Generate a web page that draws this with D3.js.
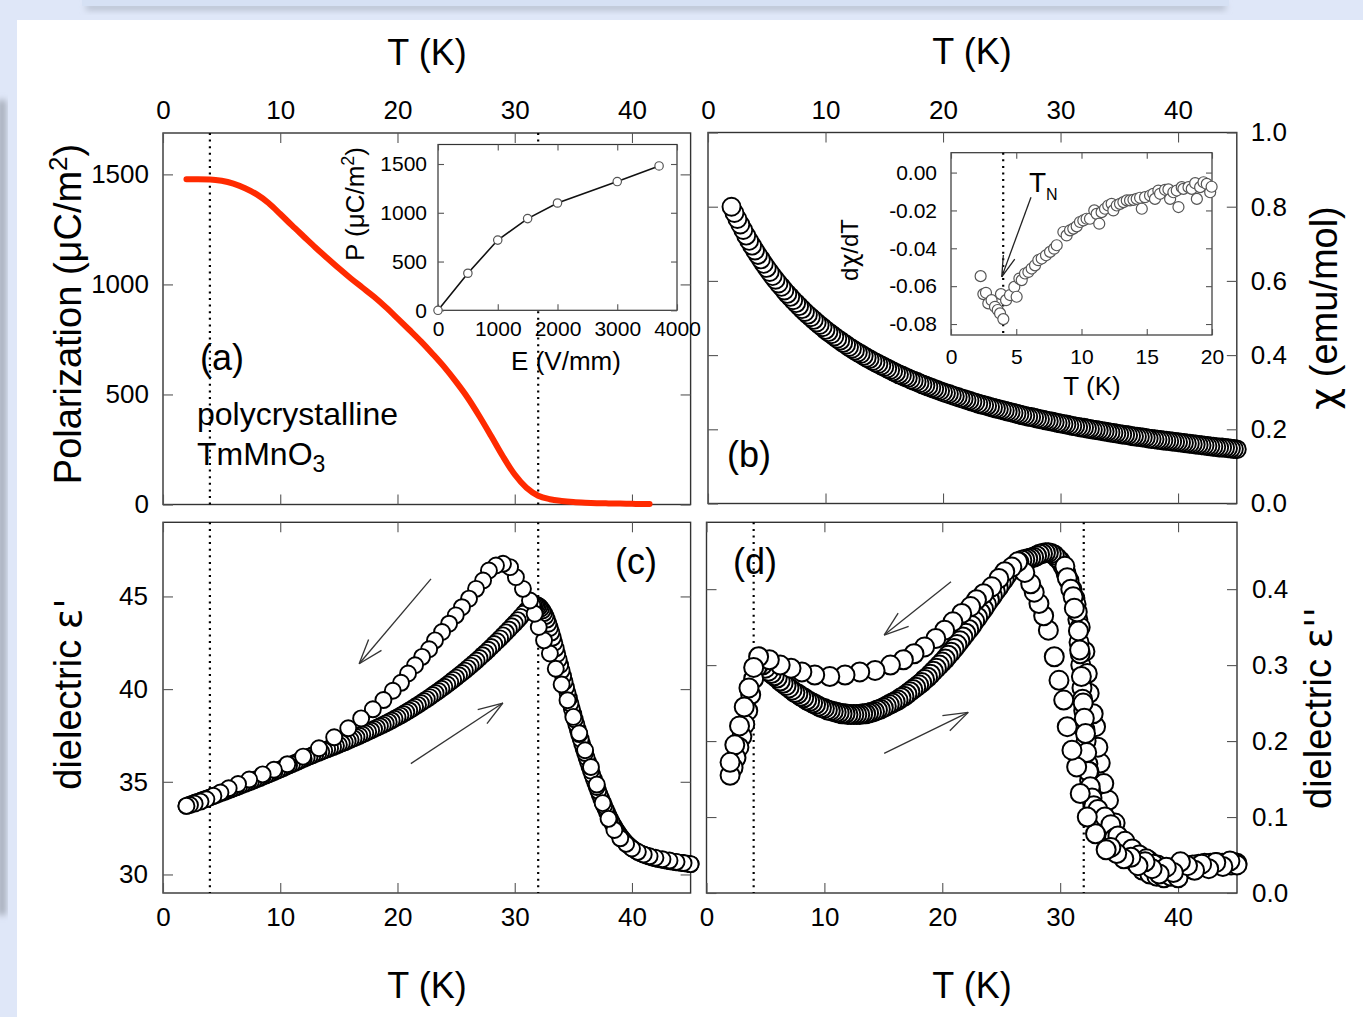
<!DOCTYPE html>
<html>
<head>
<meta charset="utf-8">
<script src="https://cdn.jsdelivr.net/npm/d3@7"></script>
<style>
  html, body { margin: 0; padding: 0; background: #dfe7f8; }
  svg { display: block; }
</style>
</head>
<body>
<svg id="fig" width="1363" height="1017"></svg>
<script>
// ---------------------------------------------------------------
// Data: TmMnO3 polycrystal — polarization, susceptibility, dielectric
// ---------------------------------------------------------------

// Temperature grid (K) shared by the densely sampled sweeps
const TEMP_GRID = [2,2.25,2.5,2.75,3,3.25,3.5,3.75,4,4.25,4.5,4.75,5,5.25,5.5,5.75,6,6.25,6.5,6.75,7,7.25,7.5,7.75,8,8.25,8.5,8.75,9,9.25,9.5,9.75,10,10.25,10.5,10.75,11,11.25,11.5,11.75,12,12.25,12.5,12.75,13,13.25,13.5,13.75,14,14.25,14.5,14.75,15,15.25,15.5,15.75,16,16.25,16.5,16.75,17,17.25,17.5,17.75,18,18.25,18.5,18.75,19,19.25,19.5,19.75,20,20.25,20.5,20.75,21,21.25,21.5,21.75,22,22.25,22.5,22.75,23,23.25,23.5,23.75,24,24.25,24.5,24.75,25,25.25,25.5,25.75,26,26.25,26.5,26.75,27,27.25,27.5,27.75,28,28.25,28.5,28.75,29,29.25,29.5,29.75,30,30.25,30.5,30.75,31,31.25,31.5,31.75,32,32.25,32.5,32.75,33,33.25,33.5,33.75,34,34.25,34.5,34.75,35,35.25,35.5,35.75,36,36.25,36.5,36.75,37,37.25,37.5,37.75,38,38.25,38.5,38.75,39,39.25,39.5,39.75,40,40.25,40.5,40.75,41,41.25,41.5,41.75,42,42.25,42.5,42.75,43,43.25,43.5,43.75,44,44.25,44.5,44.75,45];

// (a) spontaneous polarization (uC/m^2) vs T
const POL_T = [2,3,4,5,6,7,8,9,10,11,12,13,14,15,16,17,18,19,20,21,22,23,24,25,26,27,28,29,30,31,32,33,34,35,36,37,38,39,40,41,41.5];
const POL   = [1478,1478,1477,1471,1458,1437,1409,1370,1320,1268,1218,1168,1120,1073,1028,986,944,897,846,794,741,684,624,557,484,400,310,218,136,76,40,24,16,11,8,6,5,4,3,2,2];

// (a, inset) polarization vs poling field
const PE_FIELD = [0,500,1000,1500,2000,3000,3700];
const PE_POL   = [0,380,720,940,1100,1320,1480];

// (b) magnetic susceptibility chi (emu/mol) on TEMP_GRID
const CHI = [
  .800,.783,.767,.752, .737,.722,.708,.695, .682,.670,.658,.646, .635,.624,.613,.603,
  .593,.584,.574,.565, .557,.548,.540,.532, .524,.516,.509,.502, .495,.488,.481,.475,
  .468,.462,.456,.450, .444,.439,.433,.428, .422,.417,.412,.407, .403,.398,.393,.389,
  .384,.380,.376,.372, .368,.364,.360,.356, .352,.348,.345,.341, .338,.334,.331,.328,
  .324,.321,.318,.315, .312,.309,.306,.303, .300,.297,.295,.292, .289,.287,.284,.282,
  .279,.277,.274,.272, .269,.267,.265,.263, .260,.258,.256,.254, .252,.250,.248,.246,
  .244,.242,.240,.238, .236,.234,.233,.231, .229,.227,.226,.224, .222,.221,.219,.217,
  .216,.214,.213,.211, .209,.208,.206,.205, .204,.202,.201,.199, .198,.197,.195,.194,
  .193,.191,.190,.189, .187,.186,.185,.184, .182,.181,.180,.179, .178,.177,.175,.174,
  .173,.172,.171,.170, .169,.168,.167,.166, .165,.164,.163,.162, .161,.160,.159,.158,
  .157,.156,.155,.154, .153,.152,.151,.151, .150,.149,.148,.147, .146];

// (b, inset) d(chi)/dT
const DCHI_T = [2.27,2.48,2.68,2.86,3.11,3.37,3.58,3.76,3.83,4.01,4.22,4.52,4.85,5.03,5.24,5.42,5.67,5.93,6.18,6.44,6.69,6.95,7.28,7.59,7.9,8.1,8.61,8.86,9.12,9.37,9.63,9.88,10.14,10.39,10.65,10.98,11.16,11.36,11.54,11.8,12.05,12.31,12.44,12.7,12.95,13.21,13.47,13.72,13.98,14.23,14.49,14.62,14.87,15.25,15.5,15.63,15.89,16.02,16.4,16.66,16.79,17.04,17.3,17.43,17.68,17.81,18.2,18.45,18.71,18.84,19.09,19.35,19.6,19.86,19.97];
const DCHI   = [-0.0547,-0.0642,-0.0635,-0.0691,-0.0674,-0.0709,-0.0726,-0.0744,-0.0642,-0.0774,-0.0674,-0.0647,-0.0604,-0.0656,-0.056,-0.0568,-0.0533,-0.0525,-0.0507,-0.049,-0.0463,-0.0454,-0.0437,-0.0419,-0.0402,-0.0384,-0.0314,-0.0332,-0.0305,-0.0296,-0.0284,-0.0261,-0.0253,-0.0244,-0.0244,-0.02,-0.0218,-0.027,-0.0209,-0.0191,-0.0174,-0.0165,-0.02,-0.0174,-0.0165,-0.0156,-0.0147,-0.0147,-0.0144,-0.0139,-0.0133,-0.0191,-0.013,-0.0121,-0.0112,-0.0139,-0.0095,-0.0112,-0.0091,-0.0089,-0.0139,-0.0104,-0.0095,-0.0182,-0.0077,-0.0086,-0.0077,-0.0086,-0.0056,-0.0139,-0.0077,-0.0051,-0.006,-0.0104,-0.0075];

// (c) dielectric constant eps' — warming sweep on TEMP_GRID
const EPS1_WARM = [
  33.70,33.76,33.82,33.88, 33.93,33.99,34.05,34.10, 34.16,34.22,34.28,34.34, 34.40,34.46,34.52,34.58,
  34.64,34.70,34.76,34.83, 34.89,34.95,35.01,35.08, 35.14,35.20,35.27,35.33, 35.40,35.47,35.53,35.60,
  35.67,35.74,35.81,35.88, 35.95,36.02,36.09,36.17, 36.24,36.30,36.37,36.43, 36.50,36.56,36.62,36.69,
  36.75,36.81,36.87,36.94, 37.00,37.07,37.13,37.20, 37.27,37.34,37.41,37.48, 37.55,37.62,37.70,37.77,
  37.85,37.92,38.00,38.07, 38.15,38.23,38.31,38.40, 38.48,38.57,38.66,38.76, 38.85,38.95,39.05,39.15,
  39.25,39.36,39.46,39.57, 39.68,39.79,39.90,40.02, 40.13,40.25,40.37,40.50, 40.62,40.75,40.87,41.00,
  41.13,41.27,41.40,41.54, 41.68,41.83,41.97,42.12, 42.27,42.43,42.58,42.74, 42.90,43.06,43.22,43.39,
  43.55,43.72,43.90,44.08, 44.25,44.40,44.52,44.56, 44.50,44.35,44.10,43.75, 43.30,42.78,42.20,41.60,
  41.00,40.40,39.80,39.22, 38.65,38.10,37.57,37.05, 36.55,36.07,35.60,35.15, 34.72,34.30,33.90,33.53,
  33.18,32.86,32.57,32.31, 32.08,31.88,31.70,31.55, 31.42,31.31,31.22,31.14, 31.07,31.01,30.96,30.91,
  30.87,30.83,30.80,30.77, 30.74,30.71,30.69,30.66, 30.64,30.62,30.60,30.58, 30.56];

// (c) eps' — warming points between the grid steps on the steep high-T flank
const EPS1_FLANK_T = [31.625,31.875,32.125,32.375,32.625,32.875,33.125,33.375,33.625,33.875,34.125,34.375,34.625,34.875,35.125,35.375,35.625,35.875,36.125,36.375,36.625,36.875,37.125,37.375,37.625,37.875,38.125,38.375,38.625,38.875,39.125,39.375,39.625,39.875];
const EPS1_FLANK   = [44.55,44.54,44.44,44.24,43.94,43.53,43.05,42.50,41.90,41.30,40.70,40.10,39.51,38.93,38.37,37.83,37.31,36.80,36.31,35.83,35.37,34.93,34.51,34.10,33.71,33.35,33.02,32.71,32.44,32.19,31.98,31.79,31.62,31.48];

// (c) eps' — cooling sweep (45 K -> 2 K)
const EPS1_COOL_T = [45,44.4,43.8,43.2,42.6,42,41.5,41,40.5,40,39.5,39,38.5,38,37.5,37,36.5,36,35.5,35,34.5,34,33.5,33,32.5,32.05,31.7,31.3,30.7,30.1,29.6,29,28.4,27.8,27.3,26.7,26.1,25.5,24.97,24.4,23.8,23.2,22.7,22.1,21.5,20.9,20.3,19.6,18.8,17.9,16.9,15.8,14.6,13.3,11.95,10.6,9.46,8.5,7.35,6.4,5.6,4.9,4.3,3.7,3.2,2.7,2.3,2];
const EPS1_COOL   = [30.56,30.62,30.68,30.75,30.82,30.9,30.98,31.08,31.22,31.4,31.65,31.95,32.4,33.0,33.85,34.85,35.8,36.7,37.62,38.5,39.4,40.25,41.1,41.92,42.63,43.35,44.07,44.78,45.41,46.04,46.58,46.76,46.67,46.4,45.86,45.41,44.88,44.42,43.98,43.53,43.08,42.63,42.15,41.74,41.29,40.84,40.34,39.91,39.41,38.91,38.42,37.89,37.4,36.81,36.36,35.95,35.65,35.4,35.12,34.88,34.65,34.42,34.24,34.06,33.93,33.82,33.75,33.7];

// (d) dielectric loss eps'' — warming sweep on TEMP_GRID
const EPS2_WARM = [
  .155,.165,.178,.192, .206,.222,.240,.261, .282,.297,.302,.300, .296,.292,.289,.286,
  .283,.279,.276,.273, .270,.267,.264,.262, .259,.257,.254,.252, .250,.248,.246,.244,
  .243,.241,.240,.239, .238,.237,.236,.236, .235,.235,.235,.235, .235,.236,.236,.237,
  .238,.239,.241,.242, .244,.246,.248,.250, .252,.254,.257,.259, .262,.265,.268,.271,
  .274,.277,.281,.284, .288,.292,.296,.300, .304,.308,.313,.317, .322,.327,.332,.337,
  .342,.347,.352,.358, .363,.369,.374,.380, .386,.391,.397,.402, .408,.413,.419,.424,
  .429,.433,.436,.438, .439,.440,.441,.442, .444,.446,.447,.448, .448,.447,.445,.441,
  .437,.430,.421,.411, .400,.388,.360,.300, .240,.190,.148,.118, .100,.090,.084,.078,
  .073,.068,.064,.060, .056,.053,.050,.048, .046,.044,.042,.047, .038,.036,.043,.034,
  .031,.037,.029,.031, .026,.033,.029,.032, .027,.035,.031,.036, .033,.037,.034,.038,
  .035,.039,.036,.039, .037,.040,.037,.039, .038,.040,.037,.040, .039];

// (d) eps'' — scattered points along the steep flank and the high-T tail
const EPS2_EDGE_T = [35.2,34.66,34.1,33.7,33.4,33.2,33.0,32.8,32.46,32.3,32.1,31.7,31.35,31.45,31.6,31.7,31.85,31.9,32.1,32.2,32.35,32.45,32.6,32.9,
  30.4,30.6,30.9,31.1,31.2,31.55,31.65,31.8,31.95,32.05,32.15,32.25,32.4,32.55,32.7,32.85,33.05,
  33.2,33.5,33.8,34.0,34.3,34.6,34.9,35.2,35.5,35.8,36.1,36.4,36.7,37.0,37.3,37.6,37.9,38.2,38.5,38.8,39.1,39.4,39.7,40.0];
const EPS2_EDGE   = [0.07,0.092,0.122,0.144,0.171,0.192,0.219,0.236,0.263,0.289,0.318,0.35,0.38,0.37,0.33,0.315,0.27,0.255,0.215,0.2,0.17,0.16,0.133,0.108,
  0.43,0.415,0.40,0.39,0.375,0.345,0.32,0.285,0.25,0.23,0.21,0.185,0.16,0.14,0.125,0.115,0.10,
  0.11,0.095,0.10,0.08,0.09,0.072,0.075,0.06,0.068,0.05,0.058,0.04,0.05,0.03,0.045,0.025,0.038,0.022,0.03,0.02,0.028,0.022,0.03,0.02];

// (d) eps'' — cooling sweep (45 K -> 2 K)
const EPS2_COOL_T = [45,44.4,43.8,43.2,42.6,42,41.4,40.8,40.2,39.6,39,38.4,37.8,37.2,36.6,36,35.4,34.8,34.3,33.9,33,32.3,31.7,31.4,31,30.6,30.3,29.9,29.5,29,28.6,28.2,27.8,27.5,27,26.4,25.9,25.3,24.8,24.2,23.5,22.9,22.4,21.65,20.9,20.2,19.45,18.5,17.6,16.7,15.6,14.3,13,11.75,10.46,9.18,8.09,7.17,6.25,5.33,4.42,4,3.6,3.2,2.8,2.4,2];
const EPS2_COOL   = [0.037,0.042,0.035,0.04,0.032,0.038,0.03,0.036,0.041,0.027,0.034,0.025,0.032,0.041,0.036,0.047,0.045,0.052,0.06,0.057,0.078,0.1,0.131,0.166,0.188,0.219,0.254,0.28,0.311,0.346,0.365,0.381,0.396,0.407,0.422,0.436,0.429,0.423,0.414,0.403,0.394,0.386,0.377,0.368,0.357,0.346,0.335,0.324,0.315,0.307,0.3,0.293,0.291,0.287,0.285,0.287,0.291,0.296,0.3,0.307,0.311,0.297,0.27,0.245,0.22,0.195,0.172];

// Tick values
const T_TICKS     = [0,10,20,30,40];
const POL_TICKS   = [0,500,1000,1500];
const CHI_TICKS   = [0,0.2,0.4,0.6,0.8,1.0];
const EPS1_TICKS  = [30,35,40,45];
const EPS2_TICKS  = [0,0.1,0.2,0.3,0.4];
const FIELD_TICKS = [0,1000,2000,3000,4000];
const PE_TICKS    = [0,500,1000,1500];
const DT_TICKS    = [0,5,10,15,20];
const DCHI_TICKS  = [0,-0.02,-0.04,-0.06,-0.08];

// Transition temperatures marked by dotted lines
const T_N  = 4;
const T_FE = 32;

// ---------------------------------------------------------------
const FONT = "'Liberation Sans', Arial, Helvetica, sans-serif";
const GREEK = "'DejaVu Sans', 'Liberation Sans', sans-serif";
const W = 1363, H = 1017;
const svg = d3.select("#fig");
const pairs = (xs, ys) => d3.zip(xs, ys);

// page backdrop
const defs = svg.append("defs");
defs.append("filter").attr("id", "soft").attr("x", "-20%").attr("y", "-80%").attr("width", "140%").attr("height", "260%")
  .append("feGaussianBlur").attr("stdDeviation", 3);
svg.append("rect").attr("width", W).attr("height", H).attr("fill", "#dfe7f8");
svg.append("rect").attr("x", -2).attr("y", 100).attr("width", 8).attr("height", 815)
  .attr("fill", "#a4abb8").attr("filter", "url(#soft)");
svg.append("rect").attr("x", 86).attr("y", 4).attr("width", 1140).attr("height", 6)
  .attr("fill", "#b4bccb").attr("filter", "url(#soft)");
svg.append("rect").attr("x", 82).attr("y", -2).attr("width", 1147).attr("height", 8).attr("fill", "#d6e1f4");
svg.append("rect").attr("x", 17).attr("y", 20).attr("width", W - 17).attr("height", H - 20).attr("fill", "#ffffff");

// generic framed panel with inward ticks on all four sides
function panel(o) {
  const x = d3.scaleLinear().domain(o.xd).range([o.left, o.right]);
  const y = d3.scaleLinear().domain(o.yd).range([o.bottom, o.top]);
  const g = svg.append("g");
  g.append("rect")
    .attr("x", o.left).attr("y", o.top)
    .attr("width", o.right - o.left).attr("height", o.bottom - o.top)
    .attr("fill", o.fill || "none").attr("stroke", "#333").attr("stroke-width", o.frameW || 1.4);

  const ts = o.tickLen || 10;
  function put(axisFn, scale, vals, labelled, fmt, tx, ty) {
    const a = axisFn(scale).tickValues(vals).tickSizeInner(-ts).tickSizeOuter(0).tickPadding(o.pad || 14);
    a.tickFormat(labelled ? fmt : () => "");
    const ag = g.append("g").attr("transform", `translate(${tx},${ty})`).call(a)
      .attr("font-family", FONT).attr("font-size", o.fs || 26);
    ag.select(".domain").remove();
    ag.selectAll(".tick line").attr("stroke", "#555").attr("stroke-width", 1.1);
    ag.selectAll(".tick text").attr("fill", "#000");
    return ag;
  }
  const fx = o.fx || (d => d), fy = o.fy || (d => d);
  put(d3.axisTop,    x, o.xt, o.xLab === "top",    fx, 0, o.top);
  put(d3.axisBottom, x, o.xt, o.xLab === "bottom", fx, 0, o.bottom);
  put(d3.axisLeft,   y, o.yt, o.yLab === "left",   fy, o.left, 0);
  put(d3.axisRight,  y, o.yt, o.yLab === "right",  fy, o.right, 0);
  return { x, y, g };
}

function dotted(p, t) {
  const [y0, y1] = p.y.range();
  p.g.append("line")
    .attr("x1", p.x(t)).attr("x2", p.x(t)).attr("y1", y1).attr("y2", y0)
    .attr("stroke", "#000").attr("stroke-width", 2.2).attr("stroke-dasharray", "2,4.6");
}

function circles(p, data, r, sw, stroke) {
  p.g.append("g").selectAll("circle").data(data).join("circle")
    .attr("cx", d => p.x(d[0])).attr("cy", d => p.y(d[1])).attr("r", r)
    .attr("fill", "#fff").attr("stroke", stroke || "#000").attr("stroke-width", sw);
}

function arrow(p, t0, v0, t1, v1, len, ang, col, w) {
  const x0 = p.x(t0), y0 = p.y(v0), x1 = p.x(t1), y1 = p.y(v1);
  const a = Math.atan2(y0 - y1, x0 - x1);
  const gA = p.g.append("g").attr("stroke", col).attr("stroke-width", w).attr("fill", "none");
  gA.append("line").attr("x1", x0).attr("y1", y0).attr("x2", x1).attr("y2", y1);
  [-1, 1].forEach(s => {
    const b = a + s * ang;
    gA.append("line").attr("x1", x1).attr("y1", y1)
      .attr("x2", x1 + len * Math.cos(b)).attr("y2", y1 + len * Math.sin(b));
  });
}

function label(x, y, txt, size, opt = {}) {
  const t = svg.append("text").attr("font-family", FONT).attr("font-size", size).attr("fill", "#000")
    .attr("text-anchor", opt.anchor || "start");
  if (opt.rotate) t.attr("transform", `translate(${x},${y}) rotate(${opt.rotate})`);
  else t.attr("x", x).attr("y", y);
  if (Array.isArray(txt)) {
    txt.forEach(part => {
      const s = t.append("tspan").text(part.t);
      if (part.fs) s.attr("font-size", part.fs);
      if (part.dy) s.attr("dy", part.dy);
      if (part.ff) s.attr("font-family", part.ff);
    });
  } else t.text(txt);
  return t;
}

const fmt1 = d => d.toFixed(1);

// ---------------- (a) polarization ----------------
const pa = panel({ left: 163, right: 690.6, top: 133, bottom: 504.5, xd: [0, 45], yd: [0, 1688],
  xt: T_TICKS, yt: POL_TICKS, xLab: "top", yLab: "left", pad: 14 });
dotted(pa, T_N); dotted(pa, T_FE);
pa.g.append("path").datum(pairs(POL_T, POL))
  .attr("fill", "none").attr("stroke", "#ff2a00").attr("stroke-width", 6)
  .attr("stroke-linecap", "round").attr("stroke-linejoin", "round")
  .attr("d", d3.line().x(d => pa.x(d[0])).y(d => pa.y(d[1])).curve(d3.curveMonotoneX));

// inset: P vs E
const pi = panel({ left: 438, right: 677, top: 144.5, bottom: 310.3, xd: [0, 4000], yd: [0, 1700],
  xt: FIELD_TICKS, yt: PE_TICKS, xLab: "bottom", yLab: "left", fill: "#fff", tickLen: 6, pad: 11, fs: 21, frameW: 1.2 });
pi.g.append("path").datum(pairs(PE_FIELD, PE_POL))
  .attr("fill", "none").attr("stroke", "#111").attr("stroke-width", 1.6)
  .attr("d", d3.line().x(d => pi.x(d[0])).y(d => pi.y(d[1])));
circles(pi, pairs(PE_FIELD, PE_POL), 4.2, 1.2, "#555");

// ---------------- (b) susceptibility ----------------
const pb = panel({ left: 708, right: 1236.8, top: 132.5, bottom: 503.5, xd: [0, 45], yd: [0, 1],
  xt: T_TICKS, yt: CHI_TICKS, xLab: "top", yLab: "right", fy: fmt1, pad: 14 });
circles(pb, pairs(TEMP_GRID, CHI).reverse(), 9, 1.9);

// inset: dchi/dT
const pbi = panel({ left: 951, right: 1212, top: 152.7, bottom: 335, xd: [0, 20], yd: [-0.0858, 0.0105],
  xt: DT_TICKS, yt: DCHI_TICKS, xLab: "bottom", yLab: "left", fill: "#fff", tickLen: 6, pad: 14, fs: 21,
  fy: d => d.toFixed(2), frameW: 1.2 });
dotted(pbi, T_N);
circles(pbi, pairs(DCHI_T, DCHI), 5.5, 1.2, "#555");
arrow(pbi, 6.13, -0.013, 3.89, -0.0551, 22, 0.28, "#222", 1.3);

// ---------------- (c) eps' ----------------
const pc = panel({ left: 163, right: 690.6, top: 522.3, bottom: 893, xd: [0, 45], yd: [29, 49],
  xt: T_TICKS, yt: EPS1_TICKS, xLab: "bottom", yLab: "left", pad: 15 });
dotted(pc, T_N); dotted(pc, T_FE);
const warm1 = pairs(TEMP_GRID, EPS1_WARM).concat(pairs(EPS1_FLANK_T, EPS1_FLANK))
  .sort((a, b) => b[0] - a[0]);
circles(pc, warm1, 8, 1.9);
circles(pc, pairs(EPS1_COOL_T, EPS1_COOL), 8, 1.9);
arrow(pc, 22.86, 45.95, 16.73, 41.37, 26, 0.33, "#333", 1.3);
arrow(pc, 21.14, 35.98, 28.99, 39.25, 26, 0.33, "#333", 1.3);

// ---------------- (d) eps'' ----------------
const pd = panel({ left: 706.5, right: 1237, top: 522.3, bottom: 893, xd: [0, 45], yd: [0, 0.488],
  xt: T_TICKS, yt: EPS2_TICKS, xLab: "bottom", yLab: "right", fy: fmt1, pad: 15 });
dotted(pd, T_N); dotted(pd, T_FE);
circles(pd, pairs(TEMP_GRID, EPS2_WARM).reverse(), 9.5, 2);
circles(pd, pairs(EPS2_EDGE_T, EPS2_EDGE), 9.5, 2);
circles(pd, pairs(EPS2_COOL_T, EPS2_COOL), 9.5, 2);
arrow(pd, 20.74, 0.4096, 15.07, 0.3395, 26, 0.33, "#333", 1.3);
arrow(pd, 15.07, 0.1838, 22.2, 0.2378, 26, 0.33, "#333", 1.3);

// ---------------- text ----------------
label(427, 65, "T (K)", 36, { anchor: "middle" });
label(972, 64, "T (K)", 36, { anchor: "middle" });
label(427, 998, "T (K)", 36, { anchor: "middle" });
label(972, 998, "T (K)", 36, { anchor: "middle" });

label(81, 314, [{ t: "Polarization (\u03bcC/m" }, { t: "2", fs: 26, dy: -14 }, { t: ")", fs: 38, dy: 14 }], 38,
  { anchor: "middle", rotate: -90 });
label(81, 694, [{ t: "dielectric " }, { t: "\u03b5'", ff: GREEK }], 38, { anchor: "middle", rotate: -90 });
label(1337, 308, [{ t: "\u03c7", ff: GREEK }, { t: " (emu/mol)" }], 38, { anchor: "middle", rotate: -90 });
label(1331, 708, [{ t: "dielectric " }, { t: "\u03b5''", ff: GREEK }], 38, { anchor: "middle", rotate: -90 });

// inset titles
label(364, 204, [{ t: "P (\u03bcC/m" }, { t: "2", fs: 18, dy: -10 }, { t: ")", fs: 26, dy: 10 }], 26,
  { anchor: "middle", rotate: -90 });
label(566, 370, "E (V/mm)", 26, { anchor: "middle" });
label(858, 250, [{ t: "d" }, { t: "\u03c7", ff: GREEK }, { t: "/dT" }], 24, { anchor: "middle", rotate: -90 });
label(1092, 395, "T (K)", 26, { anchor: "middle" });
label(1029, 192, [{ t: "T" }, { t: "N", fs: 16, dy: 8 }], 28);

// panel tags and sample name
label(200, 370, "(a)", 36);
label(197, 425, "polycrystalline", 32);
label(197, 465, [{ t: "TmMnO" }, { t: "3", fs: 23, dy: 7 }], 32);
label(727, 467, "(b)", 36);
label(615, 574, "(c)", 36);
label(733, 574, "(d)", 36);
</script>
</body>
</html>
